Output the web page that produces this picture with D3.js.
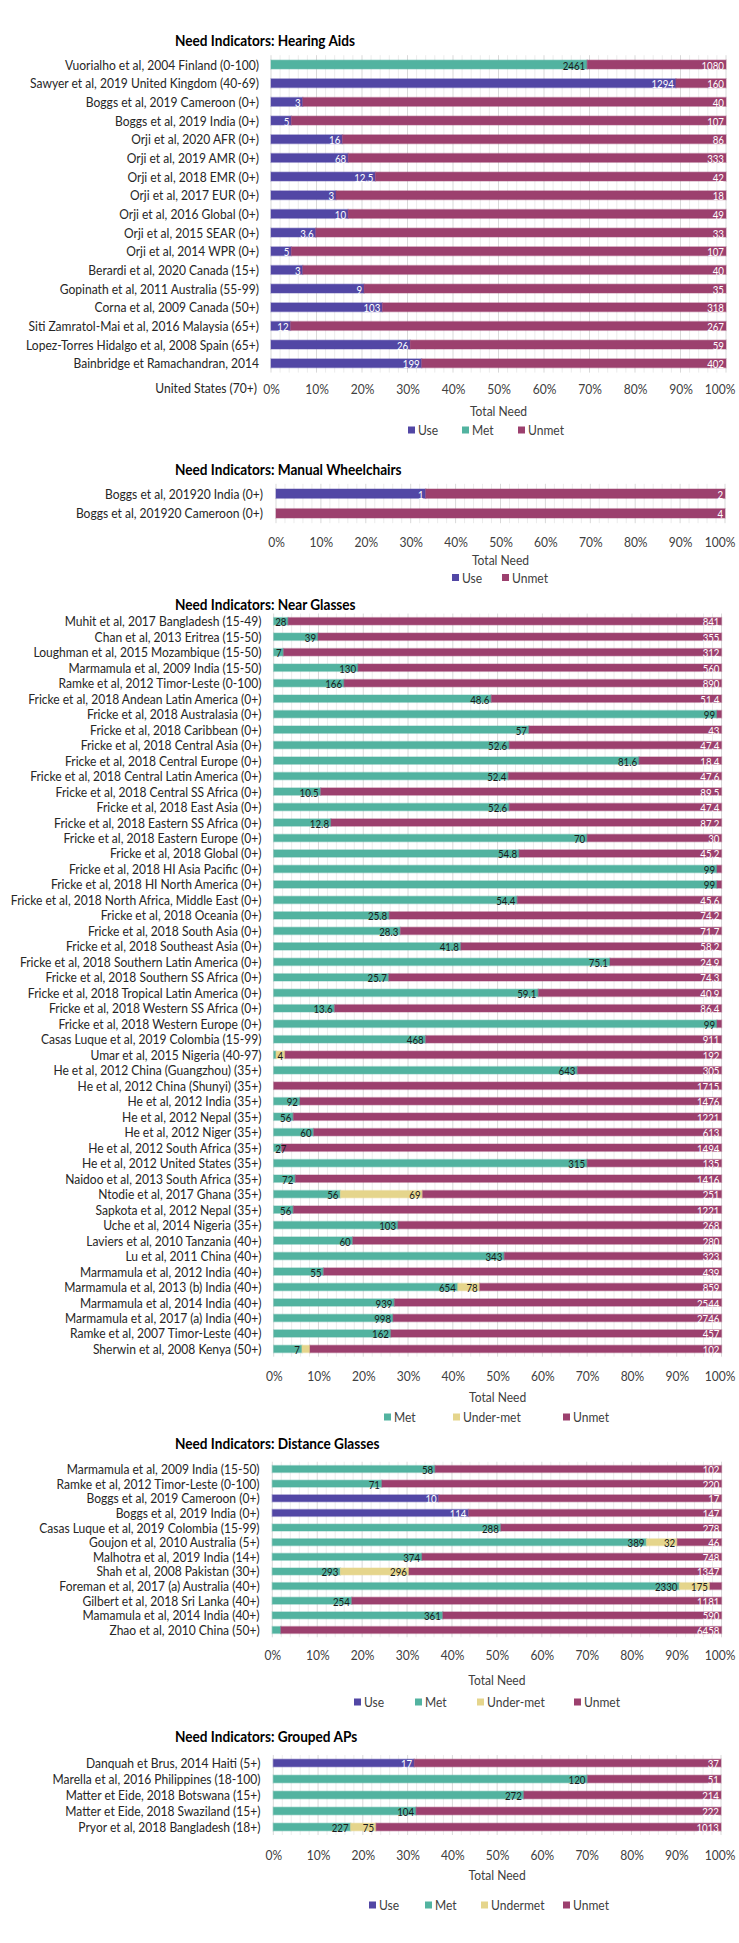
<!DOCTYPE html>
<html><head><meta charset="utf-8">
<script src="https://cdn.jsdelivr.net/npm/d3@7"></script>
<style>body{margin:0;background:#fff}svg{display:block}</style>
</head><body><svg id="chart" width="739" height="1943"></svg>
<script>
// ---------------- DATA ----------------
const tickValues = [0,0.1,0.2,0.3,0.4,0.5,0.6,0.7,0.8,0.9,1];
const axisTitle = "Total Need";

// Hearing aids
const haTitle = "Need Indicators: Hearing Aids";
const haCategories = [
 "Vuorialho et al, 2004 Finland (0-100)","Sawyer et al, 2019 United Kingdom (40-69)",
 "Boggs et al, 2019 Cameroon (0+)","Boggs et al, 2019 India (0+)","Orji et al, 2020 AFR (0+)",
 "Orji et al, 2019 AMR (0+)","Orji et al, 2018 EMR (0+)","Orji et al, 2017 EUR (0+)",
 "Orji et al, 2016 Global (0+)","Orji et al, 2015 SEAR (0+)","Orji et al, 2014 WPR (0+)",
 "Berardi et al, 2020 Canada (15+)","Gopinath et al, 2011 Australia (55-99)",
 "Corna et al, 2009 Canada (50+)","Siti Zamratol-Mai et al, 2016 Malaysia (65+)",
 "Lopez-Torres Hidalgo et al, 2008 Spain (65+)","Bainbridge et Ramachandran, 2014\nUnited States (70+)"];
const haUse   = [0,1294,3,5,16,68,12.5,3,10,3.6,5,3,9,103,12,26,199];
const haMet   = [2461,0,0,0,0,0,0,0,0,0,0,0,0,0,0,0,0];
const haUnmet = [1080,160,40,107,86,333,42,18,49,33,107,40,35,318,267,59,402];
const haSeries = ["Use","Met","Unmet"];

// Manual wheelchairs
const mwTitle = "Need Indicators: Manual Wheelchairs";
const mwCategories = ["Boggs et al, 201920 India (0+)","Boggs et al, 201920 Cameroon (0+)"];
const mwUse   = [1,0];
const mwUnmet = [2,4];
const mwSeries = ["Use","Unmet"];

// Near glasses
const ngTitle = "Need Indicators: Near Glasses";
const ngCategories = [
 "Muhit et al, 2017 Bangladesh (15-49)","Chan et al, 2013 Eritrea (15-50)",
 "Loughman et al, 2015 Mozambique (15-50)","Marmamula et al, 2009 India (15-50)",
 "Ramke et al, 2012 Timor-Leste (0-100)","Fricke et al, 2018 Andean Latin America (0+)",
 "Fricke et al, 2018 Australasia (0+)","Fricke et al, 2018 Caribbean (0+)",
 "Fricke et al, 2018 Central Asia (0+)","Fricke et al, 2018 Central Europe (0+)",
 "Fricke et al, 2018 Central Latin America (0+)","Fricke et al, 2018 Central SS Africa (0+)",
 "Fricke et al, 2018 East Asia (0+)","Fricke et al, 2018 Eastern SS Africa (0+)",
 "Fricke et al, 2018 Eastern Europe (0+)","Fricke et al, 2018 Global (0+)",
 "Fricke et al, 2018 HI Asia Pacific (0+)","Fricke et al, 2018 HI North America (0+)",
 "Fricke et al, 2018 North Africa, Middle East (0+)","Fricke et al, 2018 Oceania (0+)",
 "Fricke et al, 2018 South Asia (0+)","Fricke et al, 2018 Southeast Asia (0+)",
 "Fricke et al, 2018 Southern Latin America (0+)","Fricke et al, 2018 Southern SS Africa (0+)",
 "Fricke et al, 2018 Tropical Latin America (0+)","Fricke et al, 2018 Western SS Africa (0+)",
 "Fricke et al, 2018 Western Europe (0+)","Casas Luque et al, 2019 Colombia (15-99)",
 "Umar et al, 2015 Nigeria (40-97)","He et al, 2012 China (Guangzhou) (35+)",
 "He et al, 2012 China (Shunyi) (35+)","He et al, 2012 India (35+)","He et al, 2012 Nepal (35+)",
 "He et al, 2012 Niger (35+)","He et al, 2012 South Africa (35+)","He et al, 2012 United States (35+)",
 "Naidoo et al, 2013 South Africa (35+)","Ntodie et al, 2017 Ghana (35+)",
 "Sapkota et al, 2012 Nepal (35+)","Uche et al, 2014 Nigeria (35+)",
 "Laviers et al, 2010 Tanzania (40+)","Lu et al, 2011 China (40+)",
 "Marmamula et al, 2012 India (40+)","Marmamula et al, 2013 (b) India (40+)",
 "Marmamula et al, 2014 India (40+)","Marmamula et al, 2017 (a) India (40+)",
 "Ramke et al, 2007 Timor-Leste (40+)","Sherwin et al, 2008 Kenya (50+)"];
const ngMet = [28,39,7,130,166,48.6,99,57,52.6,81.6,52.4,10.5,52.6,12.8,70,54.8,99,99,54.4,25.8,28.3,41.8,75.1,25.7,59.1,13.6,99,
 468,1,643,0,92,56,60,27,315,72,56,56,103,60,343,55,654,939,998,162,7];
const ngUnder = [0,0,0,0,0,0,0,0,0,0,0,0,0,0,0,0,0,0,0,0,0,0,0,0,0,0,0,
 0,4,0,0,0,0,0,0,0,0,69,0,0,0,0,0,78,0,0,0,2];
const ngUnmet = [841,355,312,560,890,51.4,1,43,47.4,18.4,47.6,89.5,47.4,87.2,30,45.2,1,1,45.6,74.2,71.7,58.2,24.9,74.3,40.9,86.4,1,
 911,192,305,1715,1476,1221,613,1494,135,1416,251,1221,268,280,323,439,859,2544,2746,457,102];
const ngSeries = ["Met","Under-met","Unmet"];

// Distance glasses
const dgTitle = "Need Indicators: Distance Glasses";
const dgCategories = [
 "Marmamula et al, 2009 India (15-50)","Ramke et al, 2012 Timor-Leste (0-100)",
 "Boggs et al, 2019 Cameroon (0+)","Boggs et al, 2019 India (0+)",
 "Casas Luque et al, 2019 Colombia (15-99)","Goujon et al, 2010 Australia (5+)",
 "Malhotra et al, 2019 India (14+)","Shah et al, 2008 Pakistan (30+)",
 "Foreman et al, 2017 (a) Australia (40+)","Gilbert et al, 2018 Sri Lanka (40+)",
 "Mamamula et al, 2014 India (40+)","Zhao et al, 2010 China (50+)"];
const dgUse   = [0,0,10,114,0,0,0,0,0,0,0,0];
const dgMet   = [58,71,0,0,288,389,374,293,2330,254,361,125];
const dgUnder = [0,0,0,0,0,32,0,296,175,0,0,0];
const dgUnmet = [102,220,17,147,278,46,748,1347,66,1181,590,6458];
const dgSeries = ["Use","Met","Under-met","Unmet"];

// Grouped APs
const apTitle = "Need Indicators: Grouped APs";
const apCategories = [
 "Danquah et Brus, 2014 Haiti (5+)","Marella et al, 2016 Philippines (18-100)",
 "Matter et Eide, 2018 Botswana (15+)","Matter et Eide, 2018 Swaziland (15+)",
 "Pryor et al, 2018 Bangladesh (18+)"];
const apUse   = [17,0,0,0,0];
const apMet   = [0,120,272,104,227];
const apUnder = [0,0,0,0,75];
const apUnmet = [37,51,214,222,1013];
const apSeries = ["Use","Met","Undermet","Unmet"];

// segments whose value label is not shown in the original
const hiddenLabels = [
 "Fricke et al, 2018 Australasia (0+)|Unmet","Fricke et al, 2018 HI Asia Pacific (0+)|Unmet",
 "Fricke et al, 2018 HI North America (0+)|Unmet","Fricke et al, 2018 Western Europe (0+)|Unmet",
 "Umar et al, 2015 Nigeria (40-97)|Met","Sherwin et al, 2008 Kenya (50+)|Under-met",
 "Foreman et al, 2017 (a) Australia (40+)|Unmet","Zhao et al, 2010 China (50+)|Met"];

// ---------------- STYLE ----------------
const colors = {"Use":"#5247a5","Met":"#52b3a0","Under-met":"#e5d58c","Undermet":"#e5d58c","Unmet":"#9c406e"};
const labelColors = {"Use":"#ffffff","Met":"#1a1a1a","Under-met":"#1a1a1a","Undermet":"#1a1a1a","Unmet":"#ffffff"};
const FONT = "Lato,'Open Sans',sans-serif";
const CAT_SIZE = 13.2, TITLE_SIZE = 14.8, DATA_SIZE = 11.4, TICK_SIZE = 13.2;

const svg = d3.select("#chart");
function measure(txt, size, weight){
  const t = svg.append("text").attr("font-family",FONT).attr("font-size",size).attr("font-weight",weight||"normal").text(txt);
  const w = t.node().getComputedTextLength(); t.remove(); return w;
}
// horizontal condensation factors so that the humanist sans matches the original's narrow face
const catK   = 229/measure("Sawyer et al, 2019 United Kingdom (40-69)",CAT_SIZE);
const titleK = 180/measure("Need Indicators: Hearing Aids",TITLE_SIZE,"bold");
const dataK  = 22.5/measure("2461",DATA_SIZE);
function squeeze(sel,k){
  sel.each(function(){const w=this.getComputedTextLength();
    d3.select(this).attr("textLength",w*k).attr("lengthAdjust","spacingAndGlyphs").attr("data-w",w*k);});
}

function rows(cats, seriesNames, arrays){
  return cats.map((c,i)=>{const o={cat:c}; seriesNames.forEach((s,j)=>o[s]=arrays[j][i]); return o;});
}

const panels = [
 {title:haTitle, cats:haCategories, series:haSeries, data:rows(haCategories,haSeries,[haUse,haMet,haUnmet]),
  L:{titleY:40, top:55.2, bottom:372.6, x0:271, x1:726, labelX:259, tickY:389, tnY:411, legY:430, legX:[408,462,518]}},
 {title:mwTitle, cats:mwCategories, series:mwSeries, data:rows(mwCategories,mwSeries,[mwUse,mwUnmet]),
  L:{titleY:468.5, top:483.8, bottom:523.2, x0:276, x1:725, labelX:263, tickY:541.5, tnY:560, legY:577.5, legX:[452,502]}},
 {title:ngTitle, cats:ngCategories, series:ngSeries, data:rows(ngCategories,ngSeries,[ngMet,ngUnder,ngUnmet]),
  L:{titleY:603.5, top:613.5, bottom:1356.7, x0:273.7, x1:721.5, labelX:261.5, tickY:1376, tnY:1397, legY:1417, legX:[384,453,563]}},
 {title:dgTitle, cats:dgCategories, series:dgSeries, data:rows(dgCategories,dgSeries,[dgUse,dgMet,dgUnder,dgUnmet]),
  L:{titleY:1443, top:1461.7, bottom:1637.3, x0:272.3, x1:721.5, labelX:259.6, tickY:1655, tnY:1680, legY:1702, legX:[354,415,477,574]}},
 {title:apTitle, cats:apCategories, series:apSeries, data:rows(apCategories,apSeries,[apUse,apMet,apUnder,apUnmet]),
  L:{titleY:1736, top:1755, bottom:1835, x0:273.3, x1:721, labelX:260.5, tickY:1855, tnY:1875, legY:1905, legX:[369,425,481,563]}}
];

panels.forEach(p=>{
  const L = p.L;
  const g = svg.append("g");
  const x = d3.scaleLinear().domain([0,1]).range([L.x0,L.x1]);
  const y = d3.scaleBand().domain(p.cats).range([L.top,L.bottom]).paddingInner(0).paddingOuter(0);
  const barH = y.bandwidth()*0.47;

  // title
  g.append("text").attr("x",175).attr("y",L.titleY).attr("dominant-baseline","central")
   .attr("font-family",FONT).attr("font-weight","bold").attr("font-size",TITLE_SIZE).attr("fill","#000")
   .text(p.title).call(squeeze,titleK);

  // gridlines (major every 10%, minor every 2%)
  const minor = d3.range(0,51).map(i=>i/50);
  g.append("g").selectAll("line").data(minor).join("line")
   .attr("x1",d=>x(d)).attr("x2",d=>x(d)).attr("y1",L.top).attr("y2",L.bottom)
   .attr("stroke",(d,i)=> i%5===0 ? "#d9d9d9" : "#ececec").attr("stroke-width",1);

  // stacked bars
  const stack = d3.stack().keys(p.series).offset(d3.stackOffsetExpand)(p.data);
  const barsG = g.append("g"), labelsG = g.append("g");
  stack.forEach(layer=>{
    const key = layer.key;
    barsG.append("g").selectAll("rect").data(layer.filter(d=>d[1]>d[0])).join("rect")
      .attr("x",d=>x(d[0])).attr("width",d=>x(d[1])-x(d[0]))
      .attr("y",d=>y(d.data.cat)+(y.bandwidth()-barH)/2).attr("height",barH)
      .attr("fill",colors[key]).attr("stroke",colors[key]).attr("stroke-opacity",0.35).attr("stroke-width",1.5);
    labelsG.append("g").selectAll("text").data(layer.filter(d=>d.data[key]>0 && !hiddenLabels.includes(d.data.cat+"|"+key))).join("text")
      .attr("x",d=>x(d[1])-2).attr("y",d=>y(d.data.cat)+y.bandwidth()/2+0.5)
      .attr("text-anchor","end").attr("dominant-baseline","central")
      .attr("font-family",FONT).attr("font-size",DATA_SIZE).attr("fill",labelColors[key])
      .text(d=>d.data[key]).call(squeeze,dataK)
      .each(function(){ // labels that do not fit are kept inside the plot area
        const t=d3.select(this), w=+t.attr("data-w"), xe=+t.attr("x");
        if (xe-w < L.x0+1.5) t.attr("x", L.x0+1.5+w);
      });
  });

  // category labels (wrapped lines continue one line lower)
  const cl = g.append("g");
  p.cats.forEach(c=>{
    c.split("\n").forEach((ln,i)=>{
      cl.append("text").attr("x",L.labelX-(i?2:0)).attr("y",y(c)+y.bandwidth()/2+i*25).attr("text-anchor","end")
        .attr("dominant-baseline","central").attr("font-family",FONT).attr("font-size",CAT_SIZE).attr("fill","#262626")
        .text(ln).call(squeeze,catK);
    });
  });

  // x axis
  const ax = g.append("g").attr("transform",`translate(0,${L.tickY})`)
    .call(d3.axisBottom(x).tickValues(tickValues).tickFormat(d3.format(".0%")).tickSize(0).tickPadding(0));
  ax.select(".domain").remove();
  ax.selectAll("text").attr("dy",null).attr("y",0).attr("dominant-baseline","central")
    .attr("font-family",FONT).attr("font-size",TICK_SIZE).attr("fill","#404040").call(squeeze,catK);
  // keep the last tick label inside the page
  ax.selectAll(".tick").each(function(d){
    const t = d3.select(this).select("text");
    const half = (+t.attr("data-w"))/2;
    if (x(d)+half > 735) t.attr("x", 735-half-x(d));
  });

  // axis title
  g.append("text").attr("x",(L.x0+L.x1)/2).attr("y",L.tnY).attr("text-anchor","middle").attr("dominant-baseline","central")
   .attr("font-family",FONT).attr("font-size",CAT_SIZE).attr("fill","#404040").text(axisTitle).call(squeeze,catK);

  // legend
  p.series.forEach((s,i)=>{
    const lx = L.legX[i];
    g.append("rect").attr("x",lx).attr("y",L.legY-3.5).attr("width",7).attr("height",7).attr("fill",colors[s]);
    g.append("text").attr("x",lx+10).attr("y",L.legY).attr("dominant-baseline","central")
     .attr("font-family",FONT).attr("font-size",CAT_SIZE).attr("fill","#404040").text(s).call(squeeze,catK);
  });
});
</script></body></html>
